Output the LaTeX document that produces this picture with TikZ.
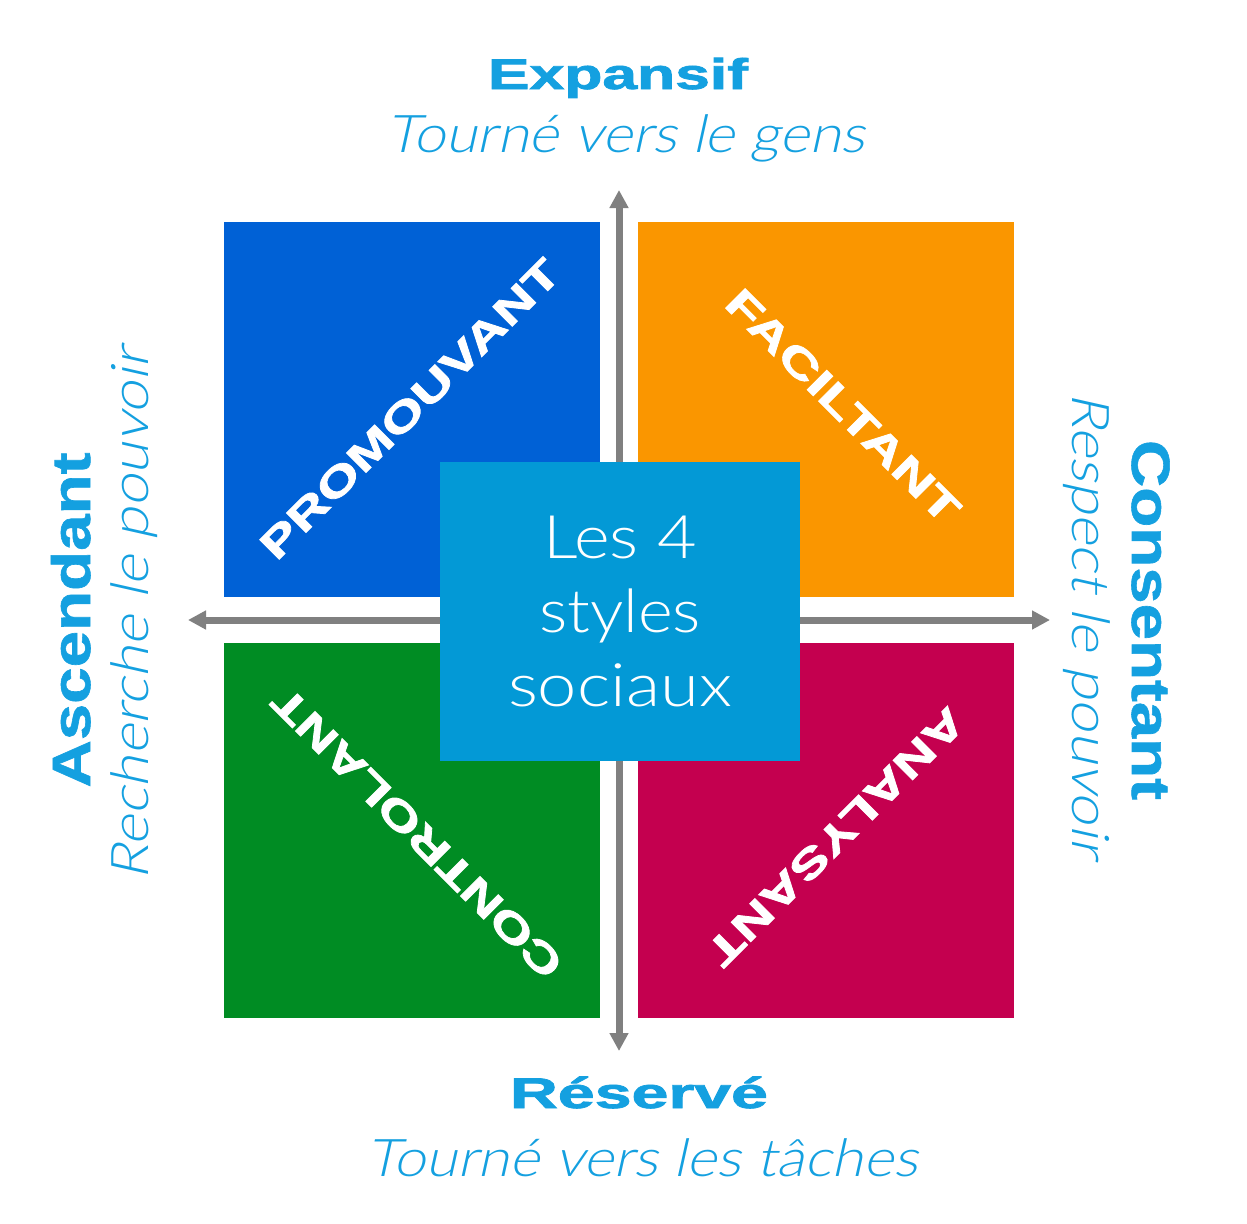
\documentclass[tikz,border=0pt]{standalone}
\usepackage{fontspec}
\usepackage{graphicx}
\usetikzlibrary{arrows.meta}
\IfFontExistsTF{Lato Light}{%
  \newfontfamily\thinfont{Lato Light}%
  \newfontfamily\thinobl{Lato Light}[FakeSlant=0.2]%
}{%
  \newfontfamily\thinfont{Lato}%
  \newfontfamily\thinobl{Lato}[FakeSlant=0.2]%
}
\newfontfamily\heavy{Liberation Sans}[BoldFeatures={FakeBold=1.6}]
\newfontfamily\heavyv{Liberation Sans}[BoldFeatures={FakeBold=1.0}]
\newcommand{\fitw}[2]{\resizebox{#1}{\height}{#2}}
\definecolor{qblue}{RGB}{0,97,214}
\definecolor{qorange}{RGB}{250,150,0}
\definecolor{qgreen}{RGB}{0,140,35}
\definecolor{qmagenta}{RGB}{196,0,79}
\definecolor{cbox}{RGB}{3,153,214}
\definecolor{tblue}{RGB}{20,160,224}
\definecolor{axisgray}{RGB}{128,128,128}
\begin{document}
\begin{tikzpicture}[x=1pt,y=-1pt,
  quad/.style={inner sep=0pt, outer sep=0pt, anchor=north west, minimum width=376pt, minimum height=375pt},
  qlabel/.style={text=white, inner sep=0pt, anchor=center, font=\heavy\bfseries\fontsize{40.5}{40.5}\selectfont},
  headh/.style={text=tblue, inner sep=0pt, anchor=base, font=\heavy\bfseries\fontsize{43}{43}\selectfont},
  headv/.style={text=tblue, inner sep=0pt, anchor=base, font=\heavyv\bfseries\fontsize{54}{54}\selectfont},
  subtxt/.style={text=tblue, inner sep=0pt, anchor=base, font=\thinobl\fontsize{52}{52}\selectfont},
  axis/.style={draw=axisgray, line width=7pt, {Triangle[width=18pt,length=18pt]}-{Triangle[width=18pt,length=18pt]}},
  centerbox/.style={fill=cbox, text=white, inner sep=0pt, minimum width=360pt, minimum height=299pt, align=center, font=\thinfont\fontsize{60}{74}\selectfont}
]
\useasboundingbox[fill=white] (0,0) rectangle (1247,1223);

% quadrants
\node[quad, fill=qblue] (promo) at (224,222) {};
\node[quad, fill=qorange] (facil) at (638,222) {};
\node[quad, fill=qgreen] (contr) at (224,643) {};
\node[quad, fill=qmagenta] (analy) at (638,643) {};

% axes
\coordinate (top) at (619,190);
\coordinate (bottom) at (619,1051);
\coordinate (left) at (188,620);
\coordinate (right) at (1050,620);
\draw[axis] (top) -- (bottom);
\draw[axis] (left) -- (right);

% center box
\node[centerbox] (center) at (620,611.5) {\fitw{154pt}{Les 4}\\\fitw{162pt}{styles}\\\fitw{224pt}{sociaux}};

% quadrant labels
\node[qlabel, rotate=45] (lpromo) at (410,409) {\fitw{405pt}{PROMOUVANT}};
\node[qlabel, rotate=-45] (lfacil) at (843,406) {\fitw{312pt}{FACILTANT}};
\node[qlabel, rotate=135] (lcontr) at (417,833) {\fitw{392pt}{CONTROLANT}};
\node[qlabel, rotate=225] (lanaly) at (836,837) {\fitw{346pt}{ANALYSANT}};

% axis titles
\node[headh] (expansif) at (618,89) {\fitw{260pt}{Expansif}};
\node[subtxt] (gens) at (626,152) {\fitw{478pt}{Tourné vers le gens}};
\node[headh] (reserve) at (639,1108) {\fitw{258pt}{Réservé}};
\node[subtxt] (taches) at (642.5,1176) {\fitw{551pt}{Tourné vers les tâches}};
\node[headv, rotate=90] (ascendant) at (90,620) {\fitw{335pt}{Ascendant}};
\node[subtxt, rotate=90] (recherche) at (148,614) {\fitw{532pt}{Recherche le pouvoir}};
\node[headv, rotate=-90] (consentant) at (1132,620) {\fitw{360pt}{Consentant}};
\node[subtxt, rotate=-90] (respect) at (1072,625) {\fitw{465pt}{Respect le pouvoir}};
\end{tikzpicture}
\end{document}
